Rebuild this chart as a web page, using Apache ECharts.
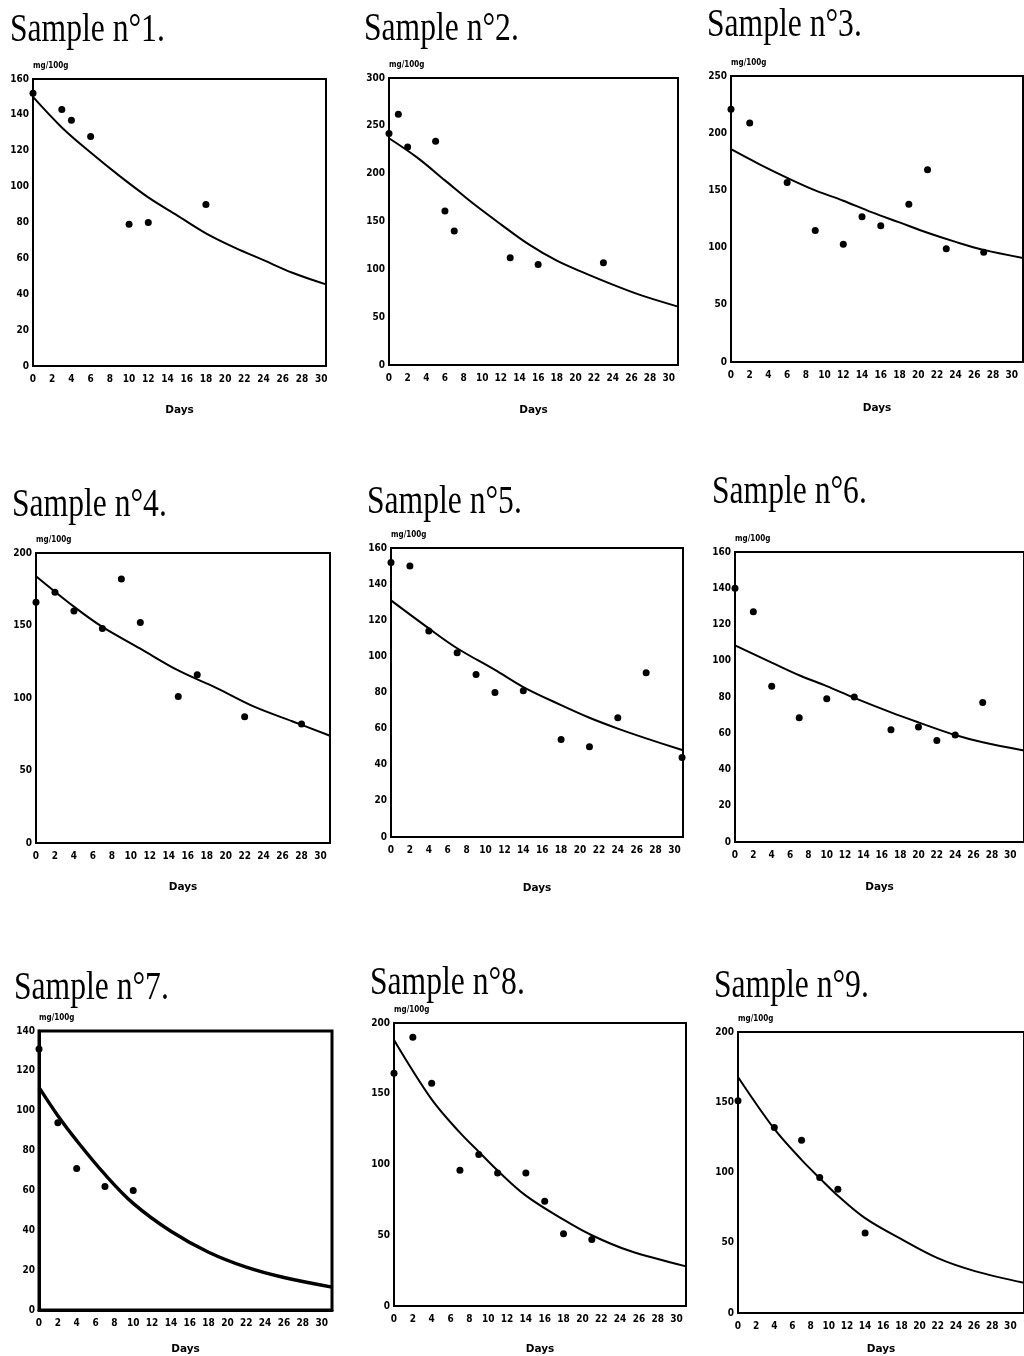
<!DOCTYPE html>
<html><head><meta charset="utf-8">
<script src="https://cdn.jsdelivr.net/npm/echarts@6/dist/echarts.min.js"></script>
<style>html,body{margin:0;padding:0;background:#fff}#c{width:1024px;height:1356px}</style>
</head><body><div id="c"></div>
<script>
// ---- data ----
const sampleTitles = ['Sample n°1.','Sample n°2.','Sample n°3.','Sample n°4.','Sample n°5.','Sample n°6.','Sample n°7.','Sample n°8.','Sample n°9.'];
const yUnit = 'mg/100g';
const xName = 'Days';

const s1Days = [0,3,4,6,10,12,18];
const s1Values = [152,143,137,128,79,80,90];
const s1CurveDays = [0,3,6,9,12,15,18,21,24,27,30.5];
const s1CurveValues = [150,133,119,106,94,84,74,66,59,52,45.5];

const s2Days = [0,1,2,5,6,7,13,16,23];
const s2Values = [242,262,228,234,161,140,112,105,107];
const s2CurveDays = [0,3,6,9,12,15,18,21,24,27,31];
const s2CurveValues = [237,217,193,169,147,126,109,96,84,73,61];

const s3Days = [0,2,6,9,12,14,16,19,21,23,27];
const s3Values = [221,209,157,115,103,127,119,138,168,99,96];
const s3CurveDays = [0,3,6,9,12,15,18,21,24,27,31.2];
const s3CurveValues = [186,173,161,150,141,131,122,113,105,98,91];

const s4Days = [0,2,4,7,9,11,15,17,22,28];
const s4Values = [166,173,160,148,182,152,101,116,87,82];
const s4CurveDays = [0,4,7,11,15,19,23,27,31];
const s4CurveValues = [184,163,149,134,119,107,94,84,74];

const s5Days = [0,2,4,7,9,11,14,18,21,24,27,30.8];
const s5Values = [152,150,114,102,90,80,81,54,50,66,91,44];
const s5CurveDays = [0,4,7,11,14,18,21,24,27,30.9];
const s5CurveValues = [131,115.5,104.5,92.5,83,73,66,60,54.6,48];

const s6Days = [0,2,4,7,10,13,17,20,22,24,27];
const s6Values = [140,127,86,68.5,79,80,62,63.5,56,59,77];
const s6CurveDays = [0,4,7,10,13,17,20,24,27,31.5];
const s6CurveValues = [108.5,99,92,86,79.5,71.5,66,59,55,50.5];

const s7Days = [0,2,4,7,10];
const s7Values = [131,94,71,62,60];
const s7CurveDays = [0,2,4,7,10,14,18,22,26,31.1];
const s7CurveValues = [111.7,97.5,85,68,53.5,39.5,29,21.5,16.3,11.5];

const s8Days = [0,2,4,7,9,11,14,16,18,21];
const s8Values = [164.5,190,157.5,96,107,94,94,74,51,47];
const s8CurveDays = [0,4,7,9,11,14,18,21,25,31];
const s8CurveValues = [188,146,122.5,109,95.7,78,61,50,39,28];

const s9Days = [0,4,7,9,11,14];
const s9Values = [151,132,123,96.5,88,57];
const s9CurveDays = [0,4,7,9,11,14,18,22,26,31.5];
const s9CurveValues = [168,131,109,96,83.5,67.5,52.5,39,30,21.5];

const yAxisMax = [160,300,250,200,160,160,140,200,200];
const yAxisStep = [20,50,50,50,20,20,20,50,50];
const xAxisMax = [30.5,31,31.2,31,30.9,31.5,31.1,31,31.5];
const xAxisStep = 2;

// ---- layout / style ----
const gridBoxes = [
  [33,79,293,287],[389,78,289,287],[731,76,292,286],
  [36,553,294,290],[391,548,292,289],[735,552,294,290],
  [39,1031,293,286],[394,1023,292,287],[738,1032,293,285]
];
const titlePos = [[10,10],[364,9],[707,5],[12,485],[367,482],[712,472],[14,968],[370,963],[714,966]];
const nameGaps = [39,40,41,39,46,40,34,38,31];
const curveW = [2,2,2,2,2,2,3.4,2,2];
const frameW = [2,2,2,2,2,2,3,2,2];

const pts = [[s1Days,s1Values],[s2Days,s2Values],[s3Days,s3Values],[s4Days,s4Values],[s5Days,s5Values],[s6Days,s6Values],[s7Days,s7Values],[s8Days,s8Values],[s9Days,s9Values]];
const crv = [[s1CurveDays,s1CurveValues],[s2CurveDays,s2CurveValues],[s3CurveDays,s3CurveValues],[s4CurveDays,s4CurveValues],[s5CurveDays,s5CurveValues],[s6CurveDays,s6CurveValues],[s7CurveDays,s7CurveValues],[s8CurveDays,s8CurveValues],[s9CurveDays,s9CurveValues]];

const tickFont = '"Liberation Sans Narrow","DejaVu Sans Condensed",sans-serif';
const grid = [], xAxis = [], yAxis = [], series = [], graphic = [];
for (let i = 0; i < 9; i++) {
  const [l,t,w,h] = gridBoxes[i];
  grid.push({left:l, top:t, width:w, height:h, show:true, borderColor:'#000', borderWidth:frameW[i], backgroundColor:'transparent', containLabel:false});
  xAxis.push({
    type:'value', gridIndex:i, min:0, max:xAxisMax[i], interval:xAxisStep,
    name:xName, nameLocation:'middle', nameGap:nameGaps[i],
    nameTextStyle:{fontFamily:'"DejaVu Sans",sans-serif', fontWeight:'bold', fontSize:10.5, color:'#000'},
    axisLine:{show:true, lineStyle:{color:'#000', width:frameW[i]}},
    axisTick:{show:false}, splitLine:{show:false},
    axisLabel:{color:'#000', fontFamily:tickFont, fontWeight:'bold', fontSize:10, margin:8, showMaxLabel:false,
      formatter: v => (Math.abs(v % xAxisStep) < 1e-9 ? String(v) : '')}
  });
  yAxis.push({
    type:'value', gridIndex:i, min:0, max:yAxisMax[i], interval:yAxisStep[i],
    name:yUnit, nameLocation:'end', nameGap:9,
    nameTextStyle:{fontFamily:tickFont, fontWeight:'bold', fontSize:8, color:'#000', align:'left', verticalAlign:'bottom'},
    axisLine:{show:true, lineStyle:{color:'#000', width:frameW[i]}},
    axisTick:{show:false}, splitLine:{show:false},
    axisLabel:{color:'#000', fontFamily:tickFont, fontWeight:'bold', fontSize:10, margin:4}
  });
  series.push({
    type:'line', xAxisIndex:i, yAxisIndex:i, symbol:'none', smooth:0.35,
    lineStyle:{color:'#000', width:curveW[i]}, silent:true, animation:false,
    data: crv[i][0].map((d,k)=>[d, crv[i][1][k]])
  });
  series.push({
    type:'scatter', xAxisIndex:i, yAxisIndex:i, symbol:'circle', symbolSize:7,
    itemStyle:{color:'#000', opacity:1}, silent:true, animation:false, clip:false,
    data: pts[i][0].map((d,k)=>[d, pts[i][1][k]])
  });
  graphic.push({
    type:'text', x:titlePos[i][0], y:titlePos[i][1], scaleX:0.79, silent:true,
    style:{text:sampleTitles[i], font:'40px "Liberation Serif", serif', fill:'#000', verticalAlign:'top', align:'left'}
  });
}
const chart = echarts.init(document.getElementById('c'), null, {renderer:'canvas'});
chart.setOption({animation:false, backgroundColor:'#fff', grid, xAxis, yAxis, series, graphic});
</script></body></html>
